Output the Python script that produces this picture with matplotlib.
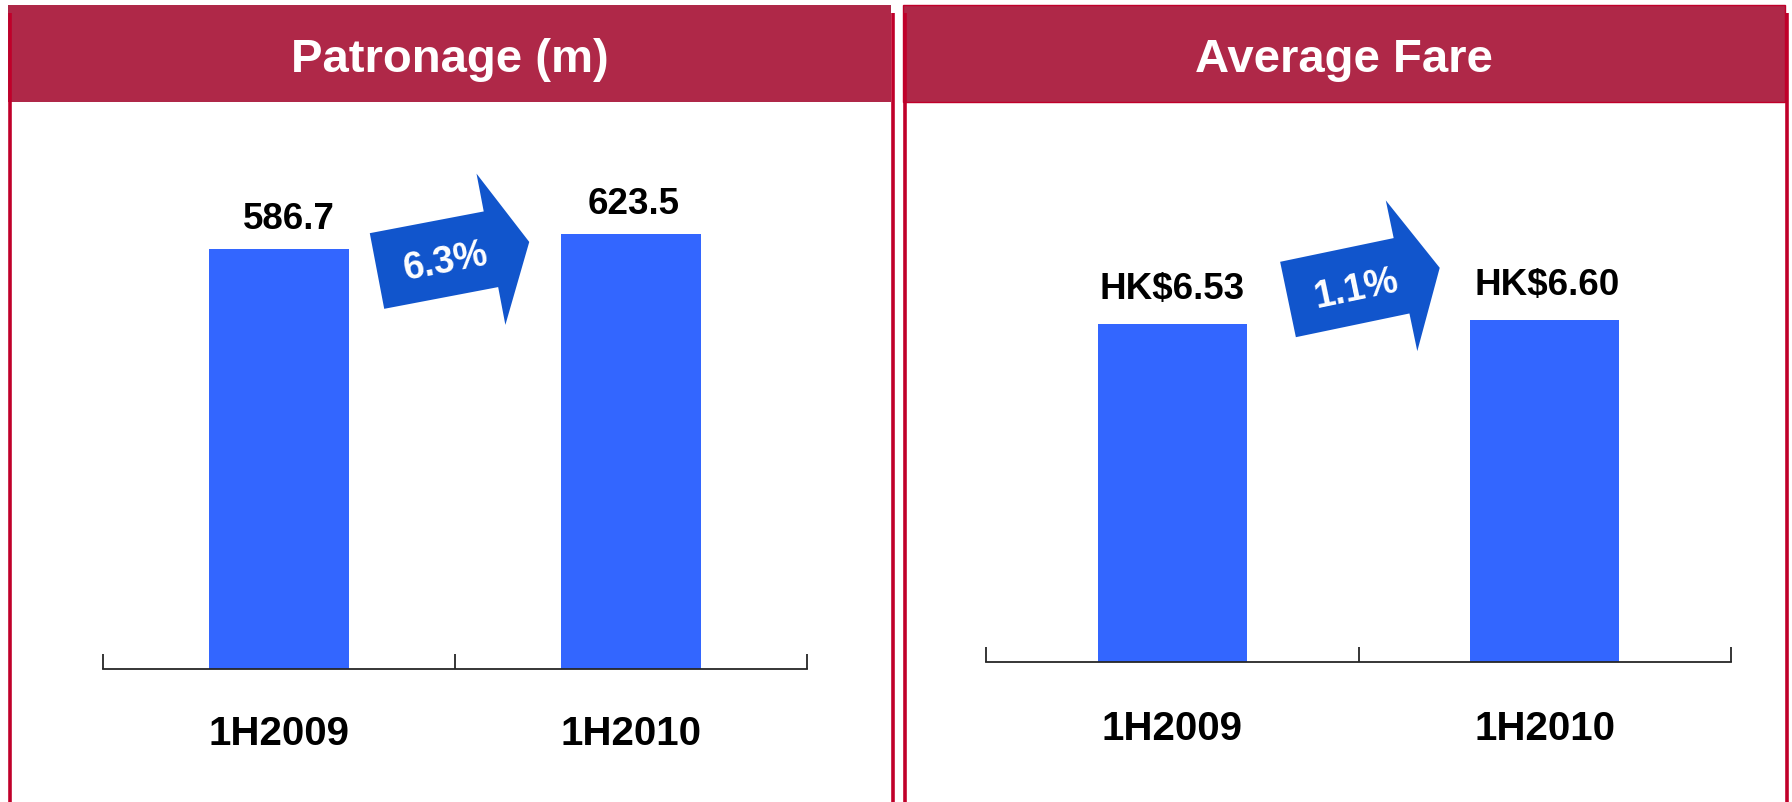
import numpy as np
import matplotlib
matplotlib.use("Agg")
from matplotlib import pyplot as plt
from matplotlib.patches import Rectangle, Polygon

plt.rcParams['font.family'] = ['Liberation Sans', 'DejaVu Sans']
plt.rcParams['font.weight'] = 'bold'

periods = ["1H2009", "1H2010"]
patronage = [586.7, 623.5]
patronage_labels = ["586.7", "623.5"]
patronage_growth = "6.3%"
fare = [6.53, 6.60]
fare_labels = ["HK$6.53", "HK$6.60"]
fare_growth = "1.1%"

W, H = 1792, 802
header_red = "#AF2848"
border_red = "#C0002A"
bar_blue = "#3366FF"
arrow_blue = "#1155CC"
axis_grey = "#262626"

fig = plt.figure(figsize=(W / 100, H / 100), dpi=100)

# background layer in pixel units (y down) for panels, headers and arrows
bg = fig.add_axes([0, 0, 1, 1])
bg.set_xlim(0, W)
bg.set_ylim(H, 0)
bg.axis("off")


def panel(x0, x1, title, edge):
    for xb in (x0 + 2, x1 + 2):
        bg.plot([xb, xb], [13, H], color=border_red, lw=2.6, solid_capstyle="butt")
    bg.add_patch(Rectangle((x0, 5), x1 - x0, 97, facecolor=header_red,
                           edgecolor=border_red if edge else "none", lw=1))
    bg.text((x0 + x1) / 2, 72, title, color="white", fontsize=34,
            ha="center", va="baseline", fontweight="bold")


def growth_arrow(tail, angle, label):
    L, w, hw, hl = 155, 77, 154, 39
    t = np.radians(angle)
    d = np.array([np.cos(t), -np.sin(t)])
    p = np.array([-np.sin(t), -np.cos(t)])
    local = [(0, -w / 2), (0, w / 2), (L - hl, w / 2), (L - hl, hw / 2),
             (L, 0), (L - hl, -hw / 2), (L - hl, -w / 2)]
    pts = [np.array(tail) + u * d + v * p for u, v in local]
    bg.add_patch(Polygon(pts, closed=True, facecolor=arrow_blue, edgecolor="none"))
    c = np.array(tail) + 69 * d
    bg.text(c[0], c[1], label, color="white", fontsize=27, rotation=angle,
            rotation_mode="anchor", ha="center", va="center_baseline",
            fontweight="bold")


panel(8, 891, "Patronage (m)", False)
panel(903, 1785, "Average Fare", True)
growth_arrow((377, 271), 10.8, patronage_growth)
growth_arrow((1288, 299.5), 11.8, fare_growth)


def bar_panel(rect, values, labels, floor, top, label_gap, tick_gap, label_dx):
    ax = fig.add_axes(rect)
    ax.patch.set_alpha(0)
    x = np.arange(len(values))
    heights = np.array(values) - floor
    ax.bar(x, heights, bottom=floor, width=0.4, color=bar_blue)
    ax.set_xlim(-0.5, len(values) - 0.5)
    ax.set_ylim(floor, top)
    for s in ("top", "left", "right"):
        ax.spines[s].set_visible(False)
    ax.spines["bottom"].set_color(axis_grey)
    ax.spines["bottom"].set_linewidth(1.3)
    ax.set_yticks([])
    ax.set_xticks(np.arange(len(values) + 1) - 0.5)
    ax.set_xticklabels([])
    ax.tick_params(axis="x", direction="in", length=10.5, width=1.3, color=axis_grey)
    for i, v in enumerate(values):
        ax.annotate(labels[i], (i, v), xytext=(label_dx[i] * 0.72, label_gap * 0.72),
                    textcoords="offset points", ha="center", va="baseline",
                    fontsize=26.5, fontweight="bold", annotation_clip=False)
        ax.annotate(periods[i], (i, floor), xytext=(0, -tick_gap * 0.72),
                    textcoords="offset points", ha="center", va="baseline",
                    fontsize=29, fontweight="bold", annotation_clip=False)
    return ax


bar_panel([103 / W, (H - 669) / H, 704 / W, (669 - 110) / H],
          patronage, patronage_labels, -440, 926.5, 20, 76, [10, 3])
bar_panel([986 / W, (H - 662) / H, 745 / W, (662 - 110) / H],
          fare, fare_labels, 0, 10.665, 25, 78, [0, 2])

fig.savefig("out.png", dpi=100)
